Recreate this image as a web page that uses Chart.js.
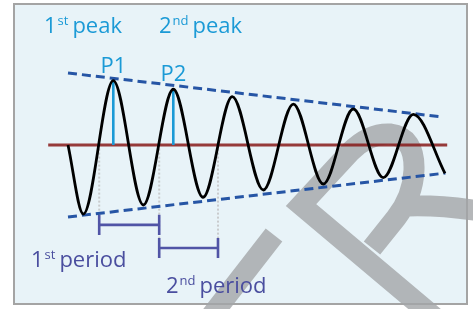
<!DOCTYPE html>
<html>
<head>
<meta charset="utf-8">
<script src="https://cdn.jsdelivr.net/npm/chart.js@4"></script>
<style>
  html, body { margin: 0; padding: 0; background: #fff; }
  #wrap { position: relative; width: 473px; height: 309px; overflow: hidden; }
  #panel { position: absolute; left: 13px; top: 3px; width: 455px; height: 302px; box-sizing: border-box; border: 2px solid #a4a4a4; background: #e8f3f8; }
  #chart { position: absolute; left: 0; top: 0; }
</style>
</head>
<body>
<div id="wrap"><div id="panel"></div><canvas id="chart" width="473" height="309"></canvas></div>
<script>
// time in periods, displacement relative to the starting amplitude
const waveT = [0, 0.255, 0.755, 1.255, 1.755, 2.25, 2.738, 3.255, 3.755, 4.255, 4.755, 5.255, 5.755, 6.283];
const waveV = [0, -0.958, 0.893, -0.833, 0.774, -0.726, 0.671, -0.625, 0.569, -0.542, 0.5, -0.454, 0.426, -0.393];

// decay envelope (dashed)
const envUpT = [0, 6.23];
const envUpV = [1.0, 0.39];
const envLowT = [0, 6.29];
const envLowV = [-1.0, -0.39];

// equilibrium line
const baseT = [-0.33, 6.32];

// marked peaks
const peakIndex = [2, 4];
const peakNames = ['P1', 'P2'];

// periods measured between upward zero crossings
const periodEdges = [0.52, 1.52, 2.5];
const periodLevels = [-1.11, -1.43];
const ordinals = ['1', '2'];
const suffixes = ['st', 'nd'];

const CYAN = '#1b9ad6';
const PURPLE = '#5054a6';
const TICK = 0.14;

const pts = (xs, ys) => xs.map((x, i) => ({ x: x, y: ys[i] }));

function lineSet(data, color, width, extra) {
    return Object.assign({
        data: data,
        showLine: true,
        borderColor: color,
        borderWidth: width,
        pointRadius: 0,
        fill: false
    }, extra || {});
}

const datasets = [];
datasets.push(lineSet(pts(waveT, waveV), '#000', 2.8, { cubicInterpolationMode: 'monotone' }));
datasets.push(lineSet(pts(envUpT, envUpV), '#2655a5', 3, { borderDash: [9, 5] }));
datasets.push(lineSet(pts(envLowT, envLowV), '#2655a5', 3, { borderDash: [9, 5] }));
peakIndex.forEach(i => {
    datasets.push(lineSet([{ x: waveT[i], y: waveV[i] }, { x: waveT[i], y: 0 }], CYAN, 2.6));
});
datasets.push(lineSet(pts(baseT, [0, 0]), 'rgba(135,25,25,0.85)', 3.2));
periodLevels.forEach((lv, i) => {
    const a = periodEdges[i], b = periodEdges[i + 1];
    datasets.push(lineSet([{ x: a, y: lv + TICK }, { x: a, y: lv - TICK }], PURPLE, 2.6));
    datasets.push(lineSet([{ x: a, y: lv }, { x: b, y: lv }], PURPLE, 2.6));
    datasets.push(lineSet([{ x: b, y: lv + TICK }, { x: b, y: lv - TICK }], PURPLE, 2.6));
});
periodEdges.forEach((e, i) => {
    const near = periodLevels.filter((lv, j) => j === i || j === i - 1);
    const bottom = Math.min.apply(null, near) - TICK;
    datasets.push(lineSet([{ x: e, y: -0.05 }, { x: e, y: bottom }], '#c9cbcd', 2, { borderDash: [2, 2] }));
});

function drawParts(ctx, x, y, parts, color) {
    ctx.fillStyle = color;
    ctx.textAlign = 'left';
    ctx.textBaseline = 'alphabetic';
    parts.forEach(p => {
        ctx.font = p.size + 'px "Open Sans"';
        x += p.gap || 0;
        ctx.fillText(p.text, x, y - (p.rise || 0));
        x += ctx.measureText(p.text).width;
    });
}

const watermark = {
    id: 'watermark',
    beforeDatasetsDraw(chart) {
        const ctx = chart.ctx;
        ctx.save();
        ctx.strokeStyle = 'rgba(163,165,167,0.8)';
        ctx.lineWidth = 21;
        ctx.lineJoin = 'miter';
        ctx.beginPath();
        ctx.moveTo(274, 235); ctx.lineTo(208, 320);
        ctx.moveTo(440, 322); ctx.lineTo(301, 205); ctx.lineTo(350, 152);
        ctx.quadraticCurveTo(369, 133, 390, 134);
        ctx.quadraticCurveTo(415, 137, 414, 170);
        ctx.quadraticCurveTo(413, 196, 396, 218);
        ctx.lineTo(372, 248);
        ctx.moveTo(408, 206); ctx.quadraticCurveTo(440, 205, 480, 211);
        ctx.stroke();
        ctx.restore();
    }
};

const labels = {
    id: 'labels',
    afterDatasetsDraw(chart) {
        const ctx = chart.ctx;
        const xs = chart.scales.x, ys = chart.scales.y;
        ctx.save();
        // peak names over the marked peaks
        ctx.font = '22px "Open Sans"';
        ctx.fillStyle = CYAN;
        ctx.textAlign = 'center';
        peakIndex.forEach((i, k) => {
            ctx.fillText(peakNames[k], xs.getPixelForValue(waveT[i]), ys.getPixelForValue(waveV[i]) - 8);
        });
        // titles
        const peakPos = [[44, 33], [159, 33]];
        const periodPos = [[31, 267], [166, 293]];
        ordinals.forEach((n, k) => {
            drawParts(ctx, peakPos[k][0], peakPos[k][1], [
                { text: n, size: 22 },
                { text: suffixes[k], size: 13, rise: 8, gap: 1 },
                { text: 'peak', size: 22, gap: 4 }
            ], CYAN);
            drawParts(ctx, periodPos[k][0], periodPos[k][1], [
                { text: n, size: 22 },
                { text: suffixes[k], size: 13, rise: 8, gap: 1 },
                { text: 'period', size: 22, gap: 4 }
            ], '#4a4e9f');
        });
        ctx.restore();
    }
};

new Chart(document.getElementById('chart').getContext('2d'), {
    type: 'scatter',
    data: { datasets: datasets },
    options: {
        responsive: false,
        animation: false,
        layout: { padding: 0 },
        plugins: { legend: { display: false }, tooltip: { enabled: false } },
        scales: {
            x: { type: 'linear', display: false, bounds: 'data', min: -1.1333, max: 6.75 },
            y: { type: 'linear', display: false, bounds: 'data', min: -2.2778, max: 2.0139 }
        }
    },
    plugins: [watermark, labels]
});
</script>
</body>
</html>
